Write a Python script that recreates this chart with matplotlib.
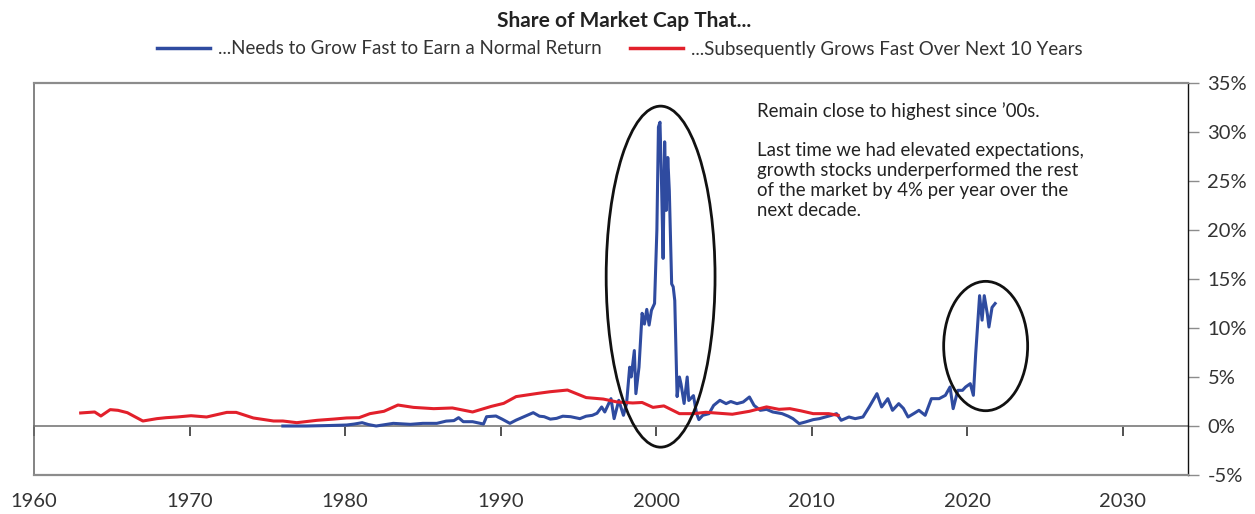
import matplotlib
matplotlib.use("Agg")
import matplotlib.pyplot as plt
from matplotlib.patches import Ellipse

plt.rcParams['font.family'] = ['Lato', 'DejaVu Sans']

title = "Share of Market Cap That..."
blue_label = "...Needs to Grow Fast to Earn a Normal Return"
red_label = "...Subsequently Grows Fast Over Next 10 Years"
note = ("Remain close to highest since \u201900s.\n\n"
        "Last time we had elevated expectations,\n"
        "growth stocks underperformed the rest\n"
        "of the market by 4% per year over the\n"
        "next decade.")

x_ticks = [1960, 1970, 1980, 1990, 2000, 2010, 2020, 2030]
y_ticks = [-5, 0, 5, 10, 15, 20, 25, 30, 35]
y_tick_labels = ["-5%", "0%", "5%", "10%", "15%", "20%", "25%", "30%", "35%"]

blue_years = [1976.0, 1977.5, 1979.0, 1980.1, 1980.6, 1981.1, 1981.5, 1982.0, 1982.6, 1983.1,
              1984.2, 1985.0, 1985.9, 1986.5, 1987.0, 1987.3, 1987.6, 1988.2, 1988.9, 1989.1,
              1989.7, 1990.1, 1990.6, 1991.0, 1991.5, 1992.1, 1992.5, 1992.8, 1993.2, 1993.6,
              1994.0, 1994.5, 1995.1, 1995.5, 1995.9, 1996.2, 1996.5, 1996.7, 1997.1, 1997.3,
              1997.6, 1997.9, 1998.1, 1998.3, 1998.4, 1998.6, 1998.7, 1998.9, 1999.1, 1999.25,
              1999.4, 1999.55, 1999.7, 1999.9, 2000.05, 2000.15, 2000.25, 2000.35, 2000.45, 2000.55,
              2000.65, 2000.75, 2000.85, 2001.0, 2001.1, 2001.2, 2001.35, 2001.5, 2001.6, 2001.8,
              2002.0, 2002.1, 2002.4, 2002.6, 2002.75, 2003.0, 2003.4, 2003.7, 2004.1, 2004.5,
              2004.8, 2005.2, 2005.6, 2006.0, 2006.3, 2006.7, 2007.1, 2007.5, 2008.1, 2008.5,
              2008.8, 2009.2, 2009.6, 2010.1, 2010.5, 2010.9, 2011.3, 2011.6, 2011.9, 2012.4,
              2012.8, 2013.3, 2013.7, 2014.2, 2014.5, 2014.9, 2015.2, 2015.6, 2015.9, 2016.2,
              2016.6, 2016.9, 2017.3, 2017.7, 2018.2, 2018.6, 2018.9, 2019.1, 2019.4, 2019.7,
              2019.9, 2020.2, 2020.4, 2020.55, 2020.8, 2020.96, 2021.1, 2021.3, 2021.4, 2021.6,
              2021.8]
blue_values = [0.0, 0.0, 0.05, 0.1, 0.2, 0.34, 0.15, 0.0, 0.15, 0.27,
               0.17, 0.27, 0.27, 0.5, 0.55, 0.85, 0.44, 0.44, 0.2, 0.95,
               1.02, 0.7, 0.27, 0.6, 0.95, 1.36, 1.0, 0.95, 0.7, 0.78,
               1.0, 0.95, 0.75, 1.0, 1.09, 1.3, 1.94, 1.43, 2.79, 0.75,
               2.62, 1.09, 2.28, 6.0, 5.0, 7.7, 3.3, 6.0, 11.5, 10.4,
               11.9, 10.3, 11.8, 12.5, 20.0, 30.5, 31.0, 24.7, 17.1, 29.0,
               22.0, 27.4, 24.0, 14.5, 14.2, 12.8, 3.0, 5.0, 4.3, 2.3,
               5.0, 2.6, 3.1, 1.3, 0.65, 1.09, 1.26, 2.1, 2.62, 2.28,
               2.5, 2.28, 2.45, 2.96, 2.1, 1.6, 1.7, 1.43, 1.26, 1.0,
               0.75, 0.24, 0.41, 0.65, 0.75, 0.92, 1.1, 1.26, 0.58, 0.92,
               0.75, 0.92, 1.94, 3.3, 1.94, 2.79, 1.6, 2.28, 1.8, 0.92,
               1.3, 1.6, 1.09, 2.79, 2.79, 3.13, 3.98, 1.77, 3.64, 3.64,
               3.98, 4.32, 3.13, 7.4, 13.3, 10.8, 13.3, 11.4, 10.1, 12.1,
               12.5]

red_years = [1963.0, 1963.9, 1964.3, 1964.9, 1965.4, 1966.0, 1967.0, 1967.9, 1968.5, 1969.2,
             1970.1, 1971.1, 1972.4, 1973.0, 1974.1, 1975.4, 1976.0, 1976.9, 1978.2, 1979.3,
             1980.1, 1980.9, 1981.6, 1982.5, 1983.4, 1984.4, 1985.7, 1986.9, 1988.2, 1989.4,
             1990.2, 1991.0, 1992.4, 1993.2, 1994.3, 1995.5, 1996.6, 1997.5, 1998.5, 1999.1,
             1999.8, 2000.5, 2001.5, 2002.4, 2003.2, 2004.9, 2006.0, 2007.1, 2007.9, 2008.6,
             2009.3, 2010.1, 2011.1, 2011.7]
red_values = [1.33, 1.43, 1.02, 1.67, 1.6, 1.36, 0.51, 0.75, 0.85, 0.92,
              1.05, 0.92, 1.39, 1.39, 0.82, 0.51, 0.51, 0.34, 0.58, 0.71,
              0.82, 0.85, 1.26, 1.5, 2.14, 1.9, 1.77, 1.84, 1.43, 2.0,
              2.31, 3.0, 3.33, 3.5, 3.67, 2.9, 2.75, 2.45, 2.35, 2.4,
              1.9, 2.05, 1.26, 1.26, 1.4, 1.2, 1.5, 1.95, 1.7, 1.77,
              1.55, 1.26, 1.26, 1.09]

# highlight ellipses: (center year, center value, width in years, height in %)
ellipse_2000 = (2000.29, 15.24, 7.0, 34.8)
ellipse_2021 = (2021.19, 8.16, 5.4, 13.2)

BLUE = "#2F4BA0"
RED = "#E2202B"
GRAY = "#8C8C8C"
TXT = "#333333"

fig = plt.figure(figsize=(12.55, 5.14), dpi=100)
ax = fig.add_axes([34 / 1255, 1 - 475 / 514, (1188 - 34) / 1255, (475 - 83) / 514])

ax.plot(blue_years, blue_values, color=BLUE, lw=2.2, solid_joinstyle='round', zorder=3)
ax.plot(red_years, red_values, color=RED, lw=2.2, solid_joinstyle='round', zorder=4)

for cx, cy, w, h in (ellipse_2000, ellipse_2021):
    ax.add_patch(Ellipse((cx, cy), w, h, fill=False, ec="#111111", lw=2.0, zorder=5))

ax.set_xlim(1960, 2034.2)
ax.set_ylim(-5, 35)

# right-hand y axis
ax.yaxis.tick_right()
ax.set_yticks(y_ticks)
ax.set_yticklabels(y_tick_labels)
ax.tick_params(axis='y', direction='out', length=8, width=1, color=GRAY,
               labelsize=14.5, labelcolor=TXT, pad=6)

# x labels at bottom without tick marks
ax.set_xticks(x_ticks)
ax.set_xticklabels([str(t) for t in x_ticks])
ax.tick_params(axis='x', length=0, labelsize=14.5, labelcolor=TXT, pad=13)

for s in ('top', 'bottom'):
    ax.spines[s].set_color(GRAY)
    ax.spines[s].set_linewidth(1.6)
ax.spines['left'].set_color("#6E6E6E")
ax.spines['left'].set_linewidth(1.2)
ax.spines['right'].set_color("#111111")
ax.spines['right'].set_linewidth(1.0)

# zero line with decade ticks
sec = ax.secondary_xaxis(5 / 40)
sec.set_xticks(x_ticks)
sec.tick_params(axis='x', direction='out', length=7, width=1.2, color="#333333",
                labelbottom=False, labeltop=False)
sec.spines['bottom'].set_color(GRAY)
sec.spines['bottom'].set_linewidth(1.4)

fig.text(757 / 1255, 1 - 102 / 514, note, ha='left', va='top', fontsize=13.4,
         color="#222222", linespacing=1.2)

fig.text(624 / 1255, 1 - 21 / 514, title, ha='center', va='center', fontsize=15,
         fontweight='bold', color="#222222")

# legend
handles = [plt.Line2D([], [], color=BLUE, lw=2.5), plt.Line2D([], [], color=RED, lw=2.5)]
fig.legend(handles, [blue_label, red_label], loc='center', bbox_to_anchor=(620 / 1255, 1 - 49 / 514),
           ncol=2, frameon=False, fontsize=13.5, handlelength=2.8, handletextpad=0.45,
           columnspacing=1.5, labelcolor=TXT)

fig.savefig("out.png", dpi=100)
